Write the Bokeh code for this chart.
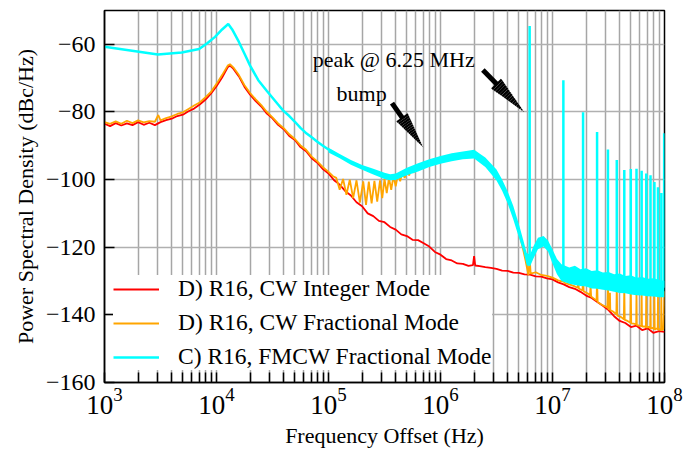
import numpy as np
from bokeh.plotting import figure
from bokeh.models import (Range1d, FixedTicker, LogTickFormatter, Label, Legend,
                          LegendItem, ColumnDataSource)
from bokeh.embed import file_html
from bokeh.resources import INLINE

# ---------------- data (log10 of frequency in Hz, level in dBc/Hz) ----------------
red_logf = [3.00, 3.05, 3.10, 3.15, 3.20, 3.25, 3.30, 3.35, 3.40, 3.45,
            3.50, 3.55, 3.60, 3.65, 3.70, 3.75, 3.80, 3.85, 3.90, 3.95,
            4.00, 4.05, 4.10, 4.12, 4.15, 4.20, 4.25, 4.30, 4.35, 4.40,
            4.45, 4.50, 4.55, 4.60, 4.65, 4.70, 4.75, 4.80, 4.85, 4.90,
            4.95, 5.00, 5.05, 5.10, 5.15, 5.20, 5.25, 5.30, 5.35, 5.40,
            5.45, 5.50, 5.55, 5.60, 5.65, 5.70, 5.75, 5.80, 5.85, 5.90,
            5.95, 6.00, 6.05, 6.10, 6.15, 6.20, 6.25, 6.29, 6.30, 6.31,
            6.35, 6.40, 6.45, 6.50, 6.55, 6.60, 6.65, 6.70, 6.75, 6.80,
            6.85, 6.90, 6.95, 7.00, 7.05, 7.10, 7.15, 7.20, 7.25, 7.30,
            7.35, 7.40, 7.45, 7.50, 7.55, 7.60, 7.65, 7.70, 7.75, 7.80,
            7.85, 7.90, 7.95, 8.00]
red_db = [-83.5, -84.2, -83.3, -84.0, -83.4, -83.9, -83.0, -83.8, -83.2, -83.9,
          -83.0, -82.4, -82.0, -81.2, -80.8, -79.8, -79.0, -77.8, -76.4, -74.6,
          -72.4, -69.8, -66.8, -66.3, -67.2, -69.5, -72.6, -74.9, -76.8, -78.4,
          -80.5, -81.9, -83.8, -85.1, -87.1, -88.3, -90.4, -91.6, -93.7, -95.0,
          -96.9, -98.2, -100.2, -101.5, -103.4, -104.7, -106.7, -107.9, -110.0, -110.8,
          -112.2, -112.6, -114.0, -114.8, -116.2, -116.7, -117.8, -117.9, -118.8, -119.8,
          -121.4, -122.2, -123.5, -123.9, -124.8, -124.9, -125.5, -125.3, -122.6, -125.4,
          -125.6, -125.9, -126.1, -126.4, -126.9, -127.0, -127.5, -127.6, -128.0, -128.1,
          -128.6, -128.7, -129.2, -129.5, -130.4, -131.0, -131.8, -132.3, -133.2, -134.3,
          -135.0, -136.2, -137.3, -138.6, -140.4, -141.8, -142.4, -143.6, -143.2, -144.5,
          -144.0, -145.3, -144.8, -145.0]

orange_logf = [3.00, 3.05, 3.10, 3.15, 3.20, 3.25, 3.30, 3.35, 3.40, 3.45,
               3.48, 3.50, 3.55, 3.60, 3.65, 3.70, 3.75, 3.80, 3.85, 3.90,
               3.95, 4.00, 4.05, 4.10, 4.12, 4.15, 4.20, 4.25, 4.30, 4.35,
               4.40, 4.45, 4.50, 4.55, 4.60, 4.65, 4.70, 4.75, 4.80, 4.85,
               4.90, 4.95, 5.00, 5.04, 5.07, 5.10, 5.13, 5.16, 5.19, 5.22,
               5.25, 5.28, 5.31, 5.335, 5.36, 5.385, 5.41, 5.435, 5.46, 5.48,
               5.50, 5.52, 5.54, 5.56, 5.58, 5.60, 5.62, 5.64, 5.66, 5.68,
               5.70, 5.72, 5.74, 5.76, 5.78, 5.80, 5.83, 5.86, 5.90, 5.95,
               6.00, 6.05, 6.10, 6.15, 6.20, 6.25, 6.30, 6.35, 6.40, 6.45,
               6.50, 6.55, 6.60, 6.65, 6.70, 6.73, 6.76, 6.785, 6.796, 6.805,
               6.85, 6.90, 6.95, 7.00, 7.05, 7.090, 7.097, 7.104, 7.15, 7.20,
               7.225, 7.23, 7.235, 7.268, 7.273, 7.278, 7.32, 7.335, 7.34, 7.345,
               7.37, 7.393, 7.398, 7.403, 7.44, 7.49, 7.495, 7.500, 7.51, 7.513,
               7.516, 7.54, 7.570, 7.574, 7.578, 7.61, 7.637, 7.641, 7.645, 7.67,
               7.695, 7.699, 7.703, 7.725, 7.747, 7.750, 7.753, 7.775, 7.793, 7.796,
               7.799, 7.818, 7.834, 7.837, 7.840, 7.858, 7.872, 7.875, 7.878, 7.895,
               7.907, 7.910, 7.913, 7.927, 7.939, 7.942, 7.945, 7.958, 7.969, 7.972,
               7.975, 7.99, 8.00]
orange_db = [-83.0, -83.5, -82.8, -83.5, -82.6, -83.3, -82.5, -83.1, -82.7, -82.9,
             -80.9, -82.5, -81.8, -81.3, -80.6, -80.1, -79.1, -78.1, -77.2, -75.7,
             -74.1, -71.7, -69.1, -66.3, -65.9, -66.8, -69.1, -72.1, -74.4, -76.3,
             -78.0, -80.0, -81.6, -83.4, -84.8, -86.6, -88.0, -89.9, -91.2, -93.2,
             -94.6, -96.3, -97.7, -99.0, -99.5, -103.0, -99.8, -104.5, -100.0, -105.5,
             -100.2, -106.8, -100.5, -107.5, -100.6, -107.0, -100.4, -106.5, -100.2, -105.5,
             -99.8, -104.0, -99.5, -103.0, -99.0, -102.0, -98.5, -100.5, -97.8, -99.5,
             -97.0, -98.8, -96.5, -98.0, -96.0, -97.2, -95.3, -96.0, -94.4, -94.2,
             -93.4, -93.5, -92.8, -92.9, -92.3, -92.4, -91.5, -93.0, -94.8, -97.0,
             -98.8, -101.8, -105.5, -110.0, -115.5, -119.5, -124.0, -128.3, -123.0, -127.8,
             -127.4, -128.2, -128.5, -129.0, -129.8, -130.2, -125.5, -130.5, -131.0, -131.6,
             -132.0, -129.5, -132.2, -132.8, -128.0, -133.0, -133.8, -134.3, -131.0, -134.6,
             -135.2, -135.8, -129.5, -136.2, -137.0, -137.8, -130.5, -138.3, -138.4, -133.5,
             -138.6, -139.0, -139.8, -131.0, -140.2, -140.6, -141.3, -131.5, -141.5, -141.8,
             -142.3, -132.0, -142.5, -142.6, -142.8, -132.5, -143.0, -143.2, -143.3, -132.8,
             -143.5, -143.4, -143.6, -133.0, -143.8, -143.5, -144.0, -133.5, -144.1, -143.8,
             -144.2, -134.0, -144.4, -144.0, -144.3, -134.0, -144.5, -144.2, -144.6, -134.5,
             -144.6, -144.2, -133.0]

cyan_logf = [3.00, 3.477, 3.69, 3.845, 3.92, 3.987, 4.05, 4.105, 4.14, 4.20,
             4.25, 4.30, 4.373, 4.45, 4.50, 4.55, 4.596, 4.65, 4.70, 4.75,
             4.805, 4.85, 4.90, 4.95, 5.00, 5.05]
cyan_db = [-60.7, -63.0, -62.4, -61.4, -59.6, -57.8, -55.6, -54.0, -55.6, -59.3,
           -62.8, -66.3, -70.6, -73.8, -75.8, -77.8, -79.6, -81.2, -82.9, -84.7,
           -86.4, -87.5, -88.8, -90.0, -91.1, -92.1]

# noisy part of trace C: lower / upper edge of the band
band_logf = [5.00, 5.10, 5.20, 5.30, 5.40, 5.50, 5.55, 5.60, 5.70, 5.80,
             5.90, 6.00, 6.10, 6.20, 6.30, 6.40, 6.50, 6.55, 6.60, 6.65,
             6.70, 6.74, 6.77, 6.80, 6.83, 6.87, 6.92, 6.96, 7.00, 7.04,
             7.08, 7.15, 7.20, 7.25, 7.30, 7.35, 7.40, 7.45, 7.50, 7.55,
             7.60, 7.65, 7.70, 7.75, 7.80, 7.85, 7.90, 7.95, 8.00]
band_lo = [-92.0, -93.7, -95.6, -97.1, -98.5, -99.8, -100.2, -100.1, -98.7, -97.6,
           -96.3, -95.3, -94.6, -94.0, -93.8, -96.3, -100.3, -103.3, -107.1, -111.8,
           -117.1, -121.3, -125.3, -125.6, -123.3, -120.6, -119.8, -121.3, -124.8, -128.0,
           -130.0, -130.8, -131.2, -131.5, -131.6, -132.2, -132.3, -132.6, -132.8, -133.2,
           -133.5, -133.6, -134.0, -134.2, -134.3, -134.5, -134.6, -134.8, -134.8]
band_hi = [-90.6, -92.4, -94.2, -95.7, -96.8, -98.0, -98.4, -98.2, -96.5, -95.2,
           -94.0, -93.0, -92.2, -91.7, -91.2, -93.5, -97.0, -100.0, -103.5, -107.8,
           -113.2, -118.0, -121.7, -122.2, -119.7, -117.2, -116.7, -118.0, -120.7, -123.5,
           -125.0, -126.0, -125.5, -126.5, -126.2, -127.0, -126.8, -127.5, -127.3, -128.0,
           -127.8, -128.5, -128.3, -129.0, -128.8, -129.3, -129.2, -129.6, -130.0]

# spurs of trace C (multiples of 6.25 MHz)
spur_logf = [6.796, 7.097, 7.273, 7.398, 7.495, 7.574, 7.641, 7.699, 7.750, 7.796,
             7.837, 7.875, 7.910, 7.942, 7.972, 7.997]
spur_top = [-54.6, -70.6, -80.1, -85.9, -91.1, -94.2, -97.2, -96.9, -96.8, -97.4,
            -98.2, -98.7, -100.7, -102.3, -104.0, -86.3]
spur_base = [-124.0, -128.0, -128.0, -129.0, -129.0, -130.0, -130.0, -130.0, -130.0, -131.0,
             -131.0, -131.0, -131.0, -132.0, -132.0, -132.0]

series_labels = ["D) R16, CW Integer Mode", "D) R16, CW Fractional Mode",
                 "C) R16, FMCW Fractional Mode"]

y_ticks = [-160, -140, -120, -100, -80, -60]
y_tick_labels = ["\u2212160", "\u2212140", "\u2212120", "\u2212100", "\u221280", "\u221260"]
x_major = [1e3, 1e4, 1e5, 1e6, 1e7, 1e8]
x_minor_mult = [2, 3, 4, 5, 6, 7, 8, 9]

# annotations
ann_texts = ["peak @ 6.25 MHz", "bump"]
ann_x = [7.23e4, 1.18e5]
ann_y = [-64.6, -74.5]
arrow_start_f = [2.39e6, 3.69e5]
arrow_start_y = [-67.6, -77.4]
arrow_end_f = [5.57e6, 6.98e5]
arrow_end_y = [-80.0, -90.4]

# ---------------- figure ----------------
FONT = "Liberation Serif"

p = figure(width=691, height=450, x_axis_type="log",
           x_range=Range1d(1e3, 1e8), y_range=Range1d(-160, -50),
           output_backend="svg", toolbar_location=None,
           min_border_left=104, min_border_right=27,
           min_border_top=10, min_border_bottom=68)
p.background_fill_color = "white"
p.border_fill_color = "white"
p.outline_line_color = "black"
p.outline_line_width = 1.5

minor = [m * d for d in x_major[:-1] for m in x_minor_mult]
xt = FixedTicker(ticks=x_major, minor_ticks=minor)
p.xaxis.ticker = xt
p.xgrid.ticker = xt
p.xaxis.formatter = LogTickFormatter()
yt = FixedTicker(ticks=y_ticks)
p.yaxis.ticker = yt
p.ygrid.ticker = FixedTicker(ticks=y_ticks[1:])
p.yaxis.major_label_overrides = {t: s for t, s in zip(y_ticks, y_tick_labels)}

p.xgrid.grid_line_color = "#a6a6a6"
p.xgrid.grid_line_width = 1.5
p.xgrid.minor_grid_line_color = "#a6a6a6"
p.xgrid.minor_grid_line_width = 1.5
p.ygrid.grid_line_color = "#b0b0b0"
p.ygrid.grid_line_width = 1.5

for ax in (p.xaxis[0], p.yaxis[0]):
    ax.axis_line_color = "black"
    ax.axis_line_width = 1.5
    ax.major_tick_in = 10
    ax.major_tick_out = 0
    ax.major_tick_line_color = "black"
    ax.major_tick_line_width = 1.5
    ax.minor_tick_in = 10
    ax.minor_tick_out = 0
    ax.minor_tick_line_color = "black"
    ax.minor_tick_line_width = 1.5
    ax.major_label_text_font = FONT
    ax.major_label_text_font_size = "24px"
    ax.major_label_text_color = "black"
    ax.axis_label_text_font = FONT
    ax.axis_label_text_font_size = "22px"
    ax.axis_label_text_font_style = "normal"
    ax.axis_label_text_color = "black"

p.xaxis.major_label_text_font_size = "27px"
p.yaxis.minor_tick_line_color = None
p.xaxis.major_label_standoff = 5
p.yaxis.major_label_standoff = 9
p.xaxis.axis_label = "Frequency Offset (Hz)"
p.yaxis.axis_label = "Power Spectral Density (dBc/Hz)"
p.xaxis.axis_label_standoff = 6
p.yaxis.axis_label_standoff = 5

RED, ORANGE, CYAN = "#ff0000", "#ffa500", "#00ffff"

r_red = p.line(10 ** np.array(red_logf), red_db, line_color=RED, line_width=1.8)
r_orange = p.line(10 ** np.array(orange_logf), orange_db, line_color=ORANGE, line_width=1.8)
p.varea(x=10 ** np.array(band_logf), y1=band_lo, y2=band_hi, fill_color=CYAN)
r_cyan = p.line(10 ** np.array(cyan_logf), cyan_db, line_color=CYAN, line_width=2.5)
spf = 10 ** np.array(spur_logf)
p.segment(x0=spf, y0=spur_base, x1=spf, y1=spur_top, line_color=CYAN, line_width=2.5)

# annotation arrows: shaft + tapered head
ax0, ay0, ax1, ay1, aw = [], [], [], [], []
t_head, n_head = 0.32, 16
for f0, d0, f1, d1 in zip(arrow_start_f, arrow_start_y, arrow_end_f, arrow_end_y):
    l0, l1 = np.log10(f0), np.log10(f1)
    def pt(t):
        return 10 ** (l0 + (l1 - l0) * t), d0 + (d1 - d0) * t
    a, b = pt(0.0), pt(t_head + 0.02)
    ax0.append(a[0]); ay0.append(a[1]); ax1.append(b[0]); ay1.append(b[1]); aw.append(5)
    for k in range(n_head):
        ta = t_head + (1 - t_head) * k / n_head
        tb = t_head + (1 - t_head) * (k + 1) / n_head
        a, b = pt(ta), pt(tb)
        ax0.append(a[0]); ay0.append(a[1]); ax1.append(b[0]); ay1.append(b[1])
        aw.append(14 * (1 - (k + 0.5) / n_head))
asrc = ColumnDataSource(dict(x0=ax0, y0=ay0, x1=ax1, y1=ay1, w=aw))
p.segment(x0="x0", y0="y0", x1="x1", y1="y1", line_width="w", line_color="black",
          line_cap="butt", source=asrc)

for t, x, y in zip(ann_texts, ann_x, ann_y):
    p.add_layout(Label(x=x, y=y, text=t, text_font=FONT, text_font_size="22px",
                       text_color="black", text_baseline="alphabetic"))

legend = Legend(items=[LegendItem(label=series_labels[0], renderers=[r_red]),
                       LegendItem(label=series_labels[1], renderers=[r_orange]),
                       LegendItem(label=series_labels[2], renderers=[r_cyan])],
                location=(9, 12), margin=0, padding=8, spacing=7,
                label_text_font=FONT, label_text_font_size="23.5px",
                label_text_color="black", label_height=24, glyph_height=20,
                glyph_width=46, label_standoff=19,
                background_fill_color="white", background_fill_alpha=1.0,
                border_line_color=None)
p.add_layout(legend)

open("out.html", "w").write(file_html(p, INLINE))
